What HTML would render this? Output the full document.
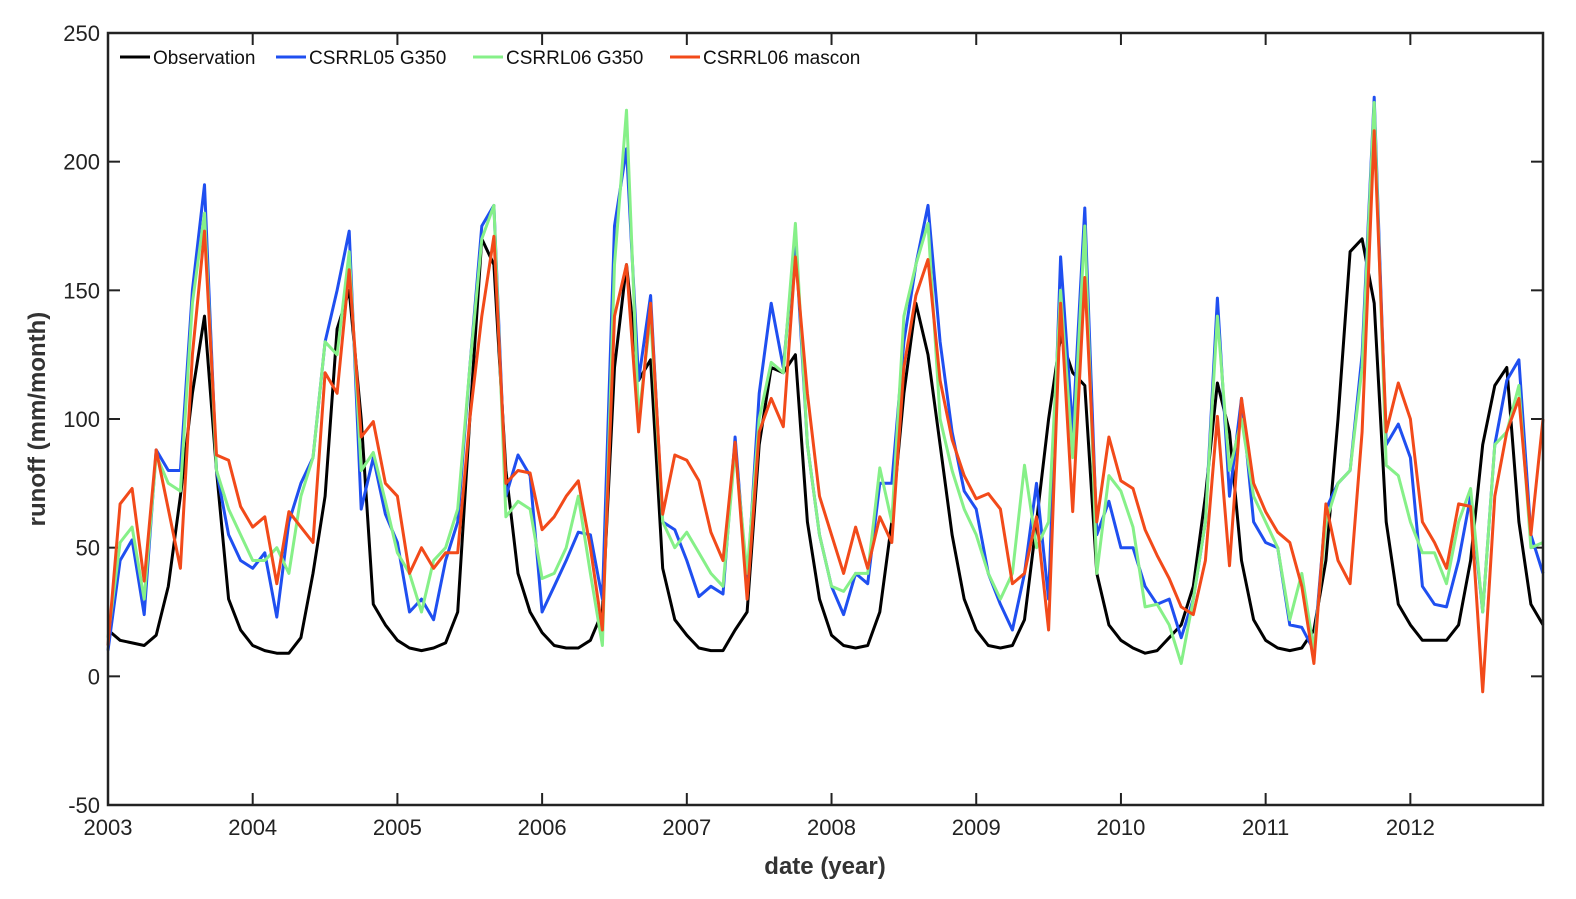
<!DOCTYPE html>
<html><head><meta charset="utf-8"><style>
body{margin:0;background:#fff;}
svg{display:block;font-family:"Liberation Sans",Arial,sans-serif;}
</style></head><body>
<svg id="s" width="1576" height="899" xmlns="http://www.w3.org/2000/svg"></svg>
<script>
const s=document.getElementById('s');
const L=108,R=1543,T=33,B=805;
const X=i=>L+i*(R-L)/119;
const Y=v=>B-(v+50)*(B-T)/300;
let h='';
for(let v=-50;v<=250;v+=50){const y=Y(v);
h+=`<line x1="${L}" y1="${y}" x2="${L+12}" y2="${y}" stroke="#222" stroke-width="2"/>`;
h+=`<line x1="${R-12}" y1="${y}" x2="${R}" y2="${y}" stroke="#222" stroke-width="2"/>`;
h+=`<text x="${L-8}" y="${y+8}" font-size="22" text-anchor="end" fill="#222">${v}</text>`;}
for(let k=0;k<10;k++){const x=X(k*12);
h+=`<line x1="${x}" y1="${B}" x2="${x}" y2="${B-12}" stroke="#222" stroke-width="2"/>`;
h+=`<line x1="${x}" y1="${T}" x2="${x}" y2="${T+12}" stroke="#222" stroke-width="2"/>`;
h+=`<text x="${x}" y="${B+30}" font-size="22" text-anchor="middle" fill="#222">${2003+k}</text>`;}
h+=`<text x="825" y="874" font-size="24" font-weight="bold" text-anchor="middle" fill="#333">date (year)</text>`;
h+=`<text transform="translate(45,419) rotate(-90)" font-size="24" font-weight="bold" text-anchor="middle" fill="#333">runoff (mm/month)</text>`;
const obs=[18,14,13,12,16,35,70,110,140,80,30,18, 12,10,9,9,15,40,70,135,150,100,28,20, 14,11,10,11,13,25,100,170,160,80,40,25, 17,12,11,11,14,25,120,160,115,123,42,22, 16,11,10,10,18,25,90,120,118,125,60,30, 16,12,11,12,25,60,110,145,125,90,55,30, 18,12,11,12,22,60,100,132,118,113,40,20, 14,11,9,10,15,20,35,70,114,95,45,22, 14,11,10,11,18,45,100,165,170,145,60,28, 20,14,14,14,20,45,90,113,120,60,28,20];
const blue=[10,45,53,24,88,80,80,150,191,80,55,45, 42,48,23,60,75,85,130,150,173,65,85,63, 52,25,30,22,45,60,120,175,183,70,86,78, 25,35,45,56,55,30,175,205,115,148,60,57, 45,31,35,32,93,35,110,145,120,170,90,55, 35,24,40,36,75,75,130,160,183,130,95,72, 65,40,28,18,40,75,30,163,95,182,55,68, 50,50,35,28,30,15,30,60,147,70,108,60, 52,50,20,19,10,65,75,80,125,225,90,98, 85,35,28,27,45,70,25,90,115,123,55,40];
const green=[15,52,58,30,86,75,72,145,180,80,65,55, 45,45,50,40,70,85,130,125,165,80,87,68, 48,40,25,45,50,65,120,170,183,62,68,65, 38,40,50,70,40,12,160,220,100,140,60,50, 56,48,40,35,88,40,100,122,118,176,90,55, 35,33,40,40,81,60,140,160,176,100,80,65, 55,40,30,40,82,50,60,150,85,175,40,78, 72,58,27,28,20,5,30,60,140,80,100,70, 60,50,22,40,10,60,75,80,120,223,82,78, 60,48,48,36,60,73,25,90,95,113,50,52];
const red=[12,67,73,37,88,65,42,125,173,86,84,66, 58,62,36,64,58,52,118,110,158,93,99,75, 70,40,50,42,48,48,100,140,171,75,80,79, 57,62,70,76,50,18,140,160,95,145,63,86, 84,76,56,45,91,30,95,108,97,163,110,70, 55,40,58,42,62,52,120,148,162,115,92,78, 69,71,65,36,40,62,18,145,64,155,60,93, 76,73,57,47,38,27,24,45,101,43,108,75, 64,56,52,35,5,67,45,36,95,212,95,114, 100,60,52,42,67,66,-6,70,95,108,55,100];
const line=(d,c)=>`<polyline fill="none" stroke="${c}" stroke-width="3" stroke-linejoin="round" points="${d.map((v,i)=>X(i).toFixed(1)+','+Y(v).toFixed(1)).join(' ')}"/>`;
h+=line(obs,'#000')+line(blue,'#1f4ff0')+line(green,'#86f088')+line(red,'#f24a1a');
h+=`<rect x="${L}" y="${T}" width="${R-L}" height="${B-T}" fill="none" stroke="#222" stroke-width="2.5"/>`;
const lg=[['Observation','#000',120],['CSRRL05 G350','#1f4ff0',276],['CSRRL06 G350','#86f088',473],['CSRRL06 mascon','#f24a1a',670]];
lg.forEach(([t,c,x])=>{h+=`<line x1="${x}" y1="57" x2="${x+30}" y2="57" stroke="${c}" stroke-width="3"/><text x="${x+33}" y="64" font-size="19" fill="#111">${t}</text>`;});
s.innerHTML=h;
</script>
</body></html>
